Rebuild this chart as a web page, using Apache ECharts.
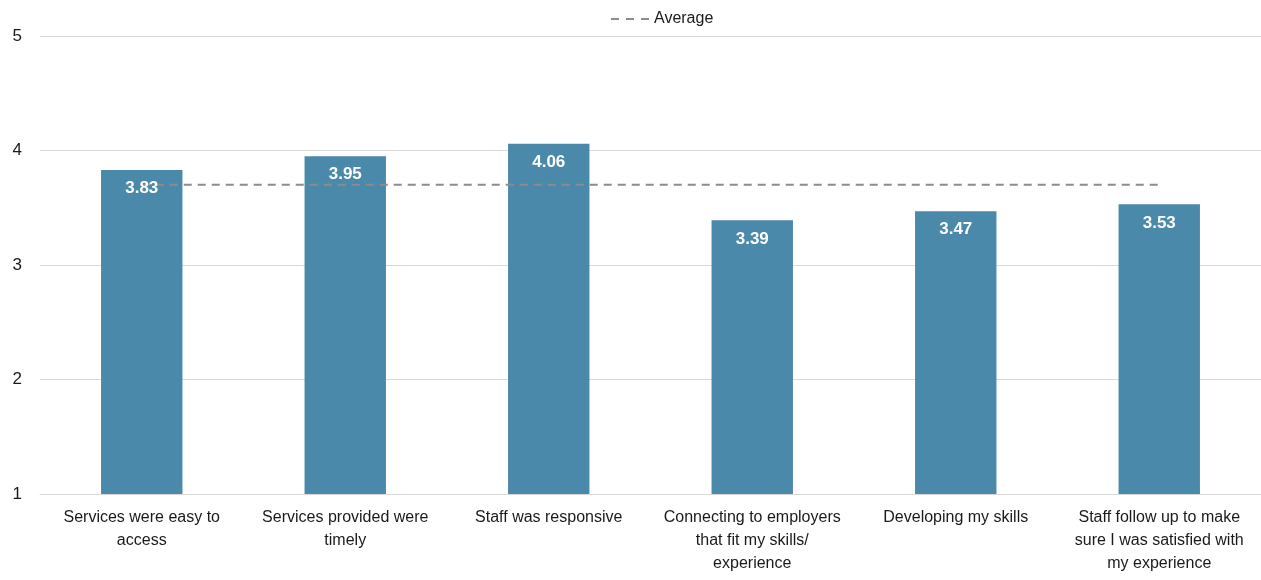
<!DOCTYPE html>
<html>
<head>
<meta charset="utf-8">
<script src="https://cdn.jsdelivr.net/npm/echarts@6/dist/echarts.min.js"></script>
<style>
  html, body { margin: 0; padding: 0; background: #fff; }
  #chart { width: 1261px; height: 580px; }
</style>
</head>
<body>
<div id="chart"></div>
<script>
// 数据
var categories = [
  'Services were easy to\naccess',
  'Services provided were\ntimely',
  'Staff was responsive',
  'Connecting to employers\nthat fit my skills/\nexperience',
  'Developing my skills',
  'Staff follow up to make\nsure I was satisfied with\nmy experience'
];
var scores = [3.83, 3.95, 4.06, 3.39, 3.47, 3.53];
var averageValues = [3.70, 3.70, 3.70, 3.70, 3.70, 3.70];
var yTicks = [1, 2, 3, 4, 5];

var fontFamily = '"Liberation Sans Narrow", "Arial Narrow", "Liberation Sans", Arial, sans-serif';
var gridColor = '#d9d9d9';

var chart = echarts.init(document.getElementById('chart'));
var option = {
  animation: false,
  textStyle: { fontFamily: fontFamily },
  legend: {
    top: 6,
    left: 606,
    itemWidth: 38,
    itemHeight: 2,
    itemGap: 4,
    data: [{ name: 'Average', icon: 'path://M0,0 H8 V2 H0 Z M15,0 H23 V2 H15 Z M30,0 H38 V2 H30 Z' }],
    textStyle: { fontSize: 16, color: '#1a1a1a', fontFamily: fontFamily }
  },
  grid: {
    left: 40,
    right: 0,
    top: 36,
    bottom: 86,
    containLabel: false
  },
  xAxis: {
    type: 'category',
    data: categories,
    axisLine: { lineStyle: { color: gridColor, width: 1 } },
    axisTick: { show: false },
    axisLabel: {
      interval: 0,
      margin: 12,
      color: '#1a1a1a',
      fontSize: 16,
      lineHeight: 23,
      fontFamily: fontFamily
    }
  },
  yAxis: {
    type: 'value',
    min: yTicks[0],
    max: yTicks[yTicks.length - 1],
    interval: 1,
    axisLine: { show: false },
    axisTick: { show: false },
    axisLabel: {
      margin: 18,
      color: '#1a1a1a',
      fontSize: 17,
      fontFamily: fontFamily
    },
    splitLine: { lineStyle: { color: gridColor, width: 1 } }
  },
  series: [
    {
      name: 'Score',
      type: 'bar',
      data: scores,
      barWidth: '40%',
      z: 2,
      itemStyle: { color: '#4a89a9' },
      label: { show: false }
    },
    {
      name: 'Average',
      type: 'line',
      data: averageValues,
      z: 3,
      symbol: 'none',
      lineStyle: { color: '#8c8c8c', width: 2, type: [8, 6] },
      itemStyle: { color: '#8c8c8c' }
    },
    {
      // 透明柱子，只用来把数值标签画在虚线上面
      name: 'ScoreLabel',
      type: 'bar',
      data: scores,
      barWidth: '40%',
      barGap: '-100%',
      z: 4,
      silent: true,
      itemStyle: { color: 'rgba(0,0,0,0)' },
      label: {
        show: true,
        position: 'insideTop',
        distance: 10,
        color: '#ffffff',
        fontWeight: 'bold',
        fontSize: 17,
        fontFamily: fontFamily,
        formatter: function (p) { return p.value.toFixed(2); }
      }
    }
  ]
};
chart.setOption(option, true);
</script>
</body>
</html>
